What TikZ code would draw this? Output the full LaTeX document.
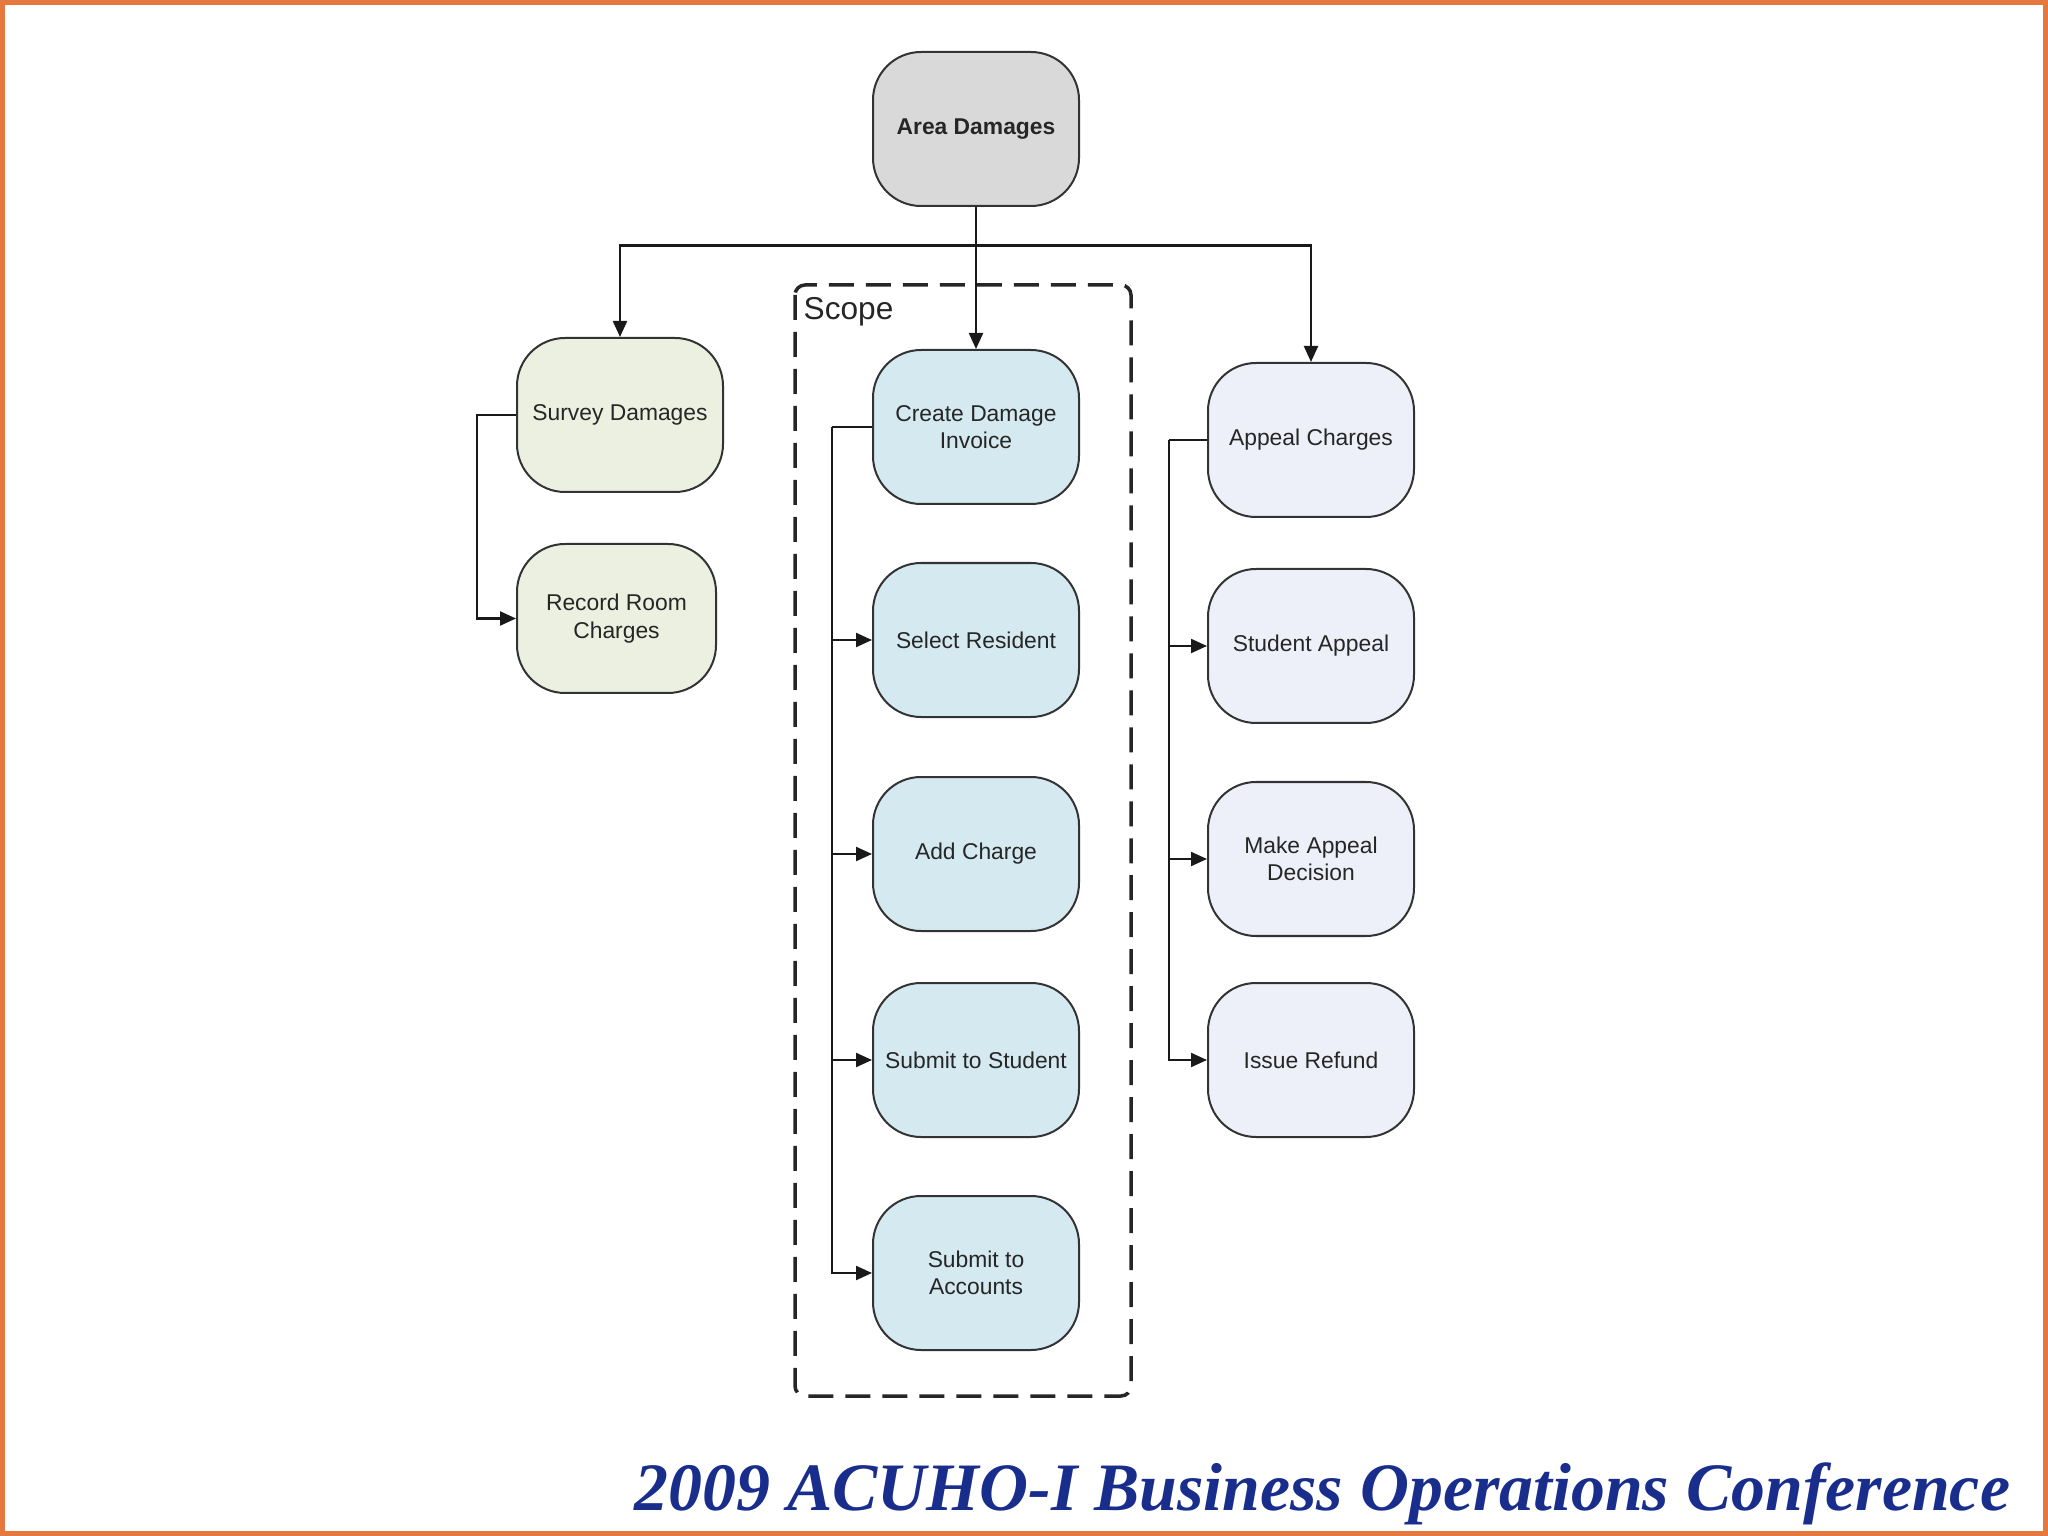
\documentclass[tikz,border=0pt]{standalone}
\usepackage{fontspec}
\setsansfont{Liberation Sans}
\newfontfamily\footfont{Liberation Serif}
\usepackage{xcolor}
\usetikzlibrary{arrows.meta,positioning}
\definecolor{areagray}{RGB}{217,217,217}
\definecolor{surveygreen}{RGB}{235,240,224}
\definecolor{scopeblue}{RGB}{212,233,240}
\definecolor{appealgray}{RGB}{237,240,248}
\definecolor{frameorange}{RGB}{228,120,62}
\definecolor{footblue}{RGB}{25,45,140}

\begin{document}
\begin{tikzpicture}[>={Triangle[length=0.16cm,width=0.14cm]}, node distance=0.57cm,
  task/.style={draw=black!80, line width=0.02cm, rounded corners=0.48cm,
    minimum width=2.06cm, minimum height=1.54cm, align=center, text=black!85,
    font=\sffamily\fontsize{6.5}{7.8}\selectfont},
  link/.style={draw=black!90, line width=0.022cm}]
  \useasboundingbox (0,0) rectangle (20.48,-15.36);
  \draw[frameorange, line width=0.05cm] (0.025,-0.025) rectangle (20.455,-15.335);

  % Define nodes
  \node[task, fill=areagray, font=\sffamily\bfseries\fontsize{6.5}{7.8}\selectfont] (area) at (9.76,-1.29) {Area Damages};
  \node[task, fill=surveygreen] (survey) at (6.20,-4.15) {Survey Damages};
  \node[task, fill=surveygreen, minimum width=1.99cm, minimum height=1.49cm] (record) [below right=0.5cm and 0cm of survey.south west] {Record Room\\Charges};

  \node[task, fill=scopeblue] (invoice) at (9.76,-4.27) {Create Damage\\Invoice};
  \node[task, fill=scopeblue] (resident) [below=of invoice] {Select Resident};
  \node[task, fill=scopeblue] (charge) [below=0.58cm of resident] {Add Charge};
  \node[task, fill=scopeblue] (student) [below=0.50cm of charge] {Submit to Student};
  \node[task, fill=scopeblue] (accounts) [below=of student] {Submit to\\Accounts};

  \node[task, fill=appealgray] (appeal) at (13.11,-4.40) {Appeal Charges};
  \node[task, fill=appealgray] (stappeal) [below=0.50cm of appeal] {Student Appeal};
  \node[task, fill=appealgray] (decision) [below=of stappeal] {Make Appeal\\Decision};
  \node[task, fill=appealgray] (refund) [below=0.45cm of decision] {Issue Refund};

  % Scope frame
  \draw[black!85, line width=0.035cm, dash pattern=on 0.25cm off 0.12cm, rounded corners=0.1cm]
    (7.95,-2.85) rectangle (11.31,-13.96);
  \node[font=\sffamily\fontsize{9}{10}\selectfont, text=black!85, anchor=base west, inner sep=0pt] (scopelabel) at (8.03,-3.20) {Scope};

  % Draw arrows
  \coordinate (bus) at (9.76,-2.455);
  \draw[link,->] (area) -- (invoice);
  \draw[link,->] (bus) -| (survey);
  \draw[link,->] (bus) -| (appeal);

  \draw[link,->] (survey.west) -- ++(-0.39,0) |- (record.west);
  \draw[link] (invoice.west) -- ++(-0.40,0) coordinate (bspine);
  \foreach \n in {resident,charge,student,accounts}
    \draw[link,->] (bspine) |- (\n.west);
  \draw[link] (appeal.west) -- ++(-0.38,0) coordinate (aspine);
  \foreach \n in {stappeal,decision,refund}
    \draw[link,->] (aspine) |- (\n.west);

  % Footer
  \node[text=footblue, font=\footfont\bfseries\itshape\fontsize{19.3}{23}\selectfont, anchor=base east, inner sep=0pt] (footer) at (20.11,-15.10) {2009 ACUHO-I Business Operations Conference};
\end{tikzpicture}
\end{document}
